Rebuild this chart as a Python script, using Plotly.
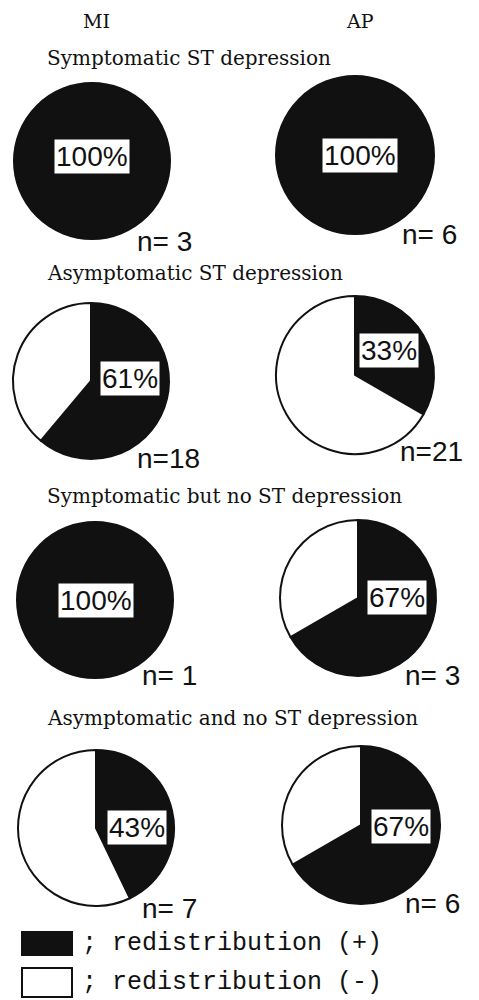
import plotly.graph_objects as go

# ---------------- data ----------------
columns = ["MI", "AP"]
groups = [
    "Symptomatic ST depression",
    "Asymptomatic ST depression",
    "Symptomatic but no ST depression",
    "Asymptomatic and no ST depression",
]
n_mi = [3, 18, 1, 7]
pos_mi = [3, 11, 1, 3]
n_ap = [6, 21, 3, 6]
pos_ap = [6, 7, 2, 4]
legend_labels = ["redistribution (+)", "redistribution (-)"]
slice_labels = ["redistribution (+)", "redistribution (-)"]

# ---------------- layout (page pixels) ----------------
PAGE_W, PAGE_H = 479, 1000
OFF = 8  # default body margin of the html page
W, H = PAGE_W - OFF, PAGE_H - OFF

pie_center = {  # (cx, cy, r) per row, per column, in page pixels
    "MI": [(92, 161, 78), (91, 381, 78), (95, 600, 78), (96, 828, 78)],
    "AP": [(355, 155, 79), (355, 375, 79), (358, 598, 78), (361, 825, 79)],
}
pct_pos = {
    "MI": [(92, 157), (130, 378), (96, 600), (137, 827)],
    "AP": [(360, 155), (389, 350), (397, 597), (401, 826)],
}
n_pos = {
    "MI": [(135, 242), (135, 458), (140, 675), (140, 908)],
    "AP": [(400, 235), (398, 452), (403, 675), (403, 903)],
}
title_y = [58, 273, 496, 718]
title_x = 45
col_x = {"MI": 96, "AP": 360}


def px(x):
    return (x - OFF) / W


def py(y):
    return 1 - (y - OFF) / H


SERIF = "DejaVu Serif"
SANS = "Liberation Sans"
MONO = "Liberation Mono"

fig = go.Figure()
annotations = []
shapes = []

data = {"MI": (n_mi, pos_mi), "AP": (n_ap, pos_ap)}

for col in columns:
    ns, ps = data[col]
    for i in range(len(groups)):
        n, p = ns[i], ps[i]
        cx, cy, r = pie_center[col][i]
        fig.add_trace(go.Pie(
            labels=slice_labels,
            values=[p, n - p],
            sort=False,
            direction="clockwise",
            rotation=0,
            textinfo="none",
            hoverinfo="label+value",
            showlegend=False,
            marker=dict(colors=["#111111", "#ffffff"],
                        line=dict(color="#111111", width=2)),
            domain=dict(x=[px(cx - r), px(cx + r)],
                        y=[py(cy + r), py(cy - r)]),
        ))
        pct = round(100 * p / n)
        xx, yy = pct_pos[col][i]
        annotations.append(dict(
            x=px(xx), y=py(yy), xref="paper", yref="paper",
            text=f"{pct}%", showarrow=False,
            font=dict(family=SANS, size=28, color="#111111"),
            bgcolor="#ffffff", borderpad=1,
            xanchor="center", yanchor="middle",
        ))
        nx, ny = n_pos[col][i]
        annotations.append(dict(
            x=px(nx), y=py(ny), xref="paper", yref="paper",
            text=f"n={n:>2}".replace(" ", "\u00a0"), showarrow=False,
            font=dict(family=SANS, size=28, color="#111111"),
            xanchor="left", yanchor="middle",
        ))

for col in columns:
    annotations.append(dict(
        x=px(col_x[col]), y=1, xref="paper", yref="paper",
        text=col, showarrow=False,
        font=dict(family=SERIF, size=19, color="#111111"),
        xanchor="center", yanchor="top",
    ))

for i, g in enumerate(groups):
    annotations.append(dict(
        x=px(title_x), y=py(title_y[i]), xref="paper", yref="paper",
        text=g, showarrow=False,
        font=dict(family=SERIF, size=20, color="#111111"),
        xanchor="left", yanchor="middle",
    ))

# legend
legend_boxes = [(22, 932, 72, 955, "#111111"), (22, 968, 72, 997, "#ffffff")]
legend_text_y = [943, 982]
for (x0, y0, x1, y1, c), lab, ty in zip(legend_boxes, legend_labels, legend_text_y):
    shapes.append(dict(type="rect", xref="paper", yref="paper",
                       x0=px(x0), x1=px(x1), y0=py(y1), y1=py(y0),
                       fillcolor=c, line=dict(color="#111111", width=2)))
    annotations.append(dict(
        x=px(80), y=py(ty), xref="paper", yref="paper",
        text="; " + lab, showarrow=False,
        font=dict(family=MONO, size=25, color="#111111"),
        xanchor="left", yanchor="middle",
    ))

fig.update_layout(
    width=W, height=H,
    margin=dict(l=0, r=0, t=0, b=0),
    paper_bgcolor="#ffffff",
    plot_bgcolor="#ffffff",
    annotations=annotations,
    shapes=shapes,
    showlegend=False,
)

fig.write_html("out.html")
